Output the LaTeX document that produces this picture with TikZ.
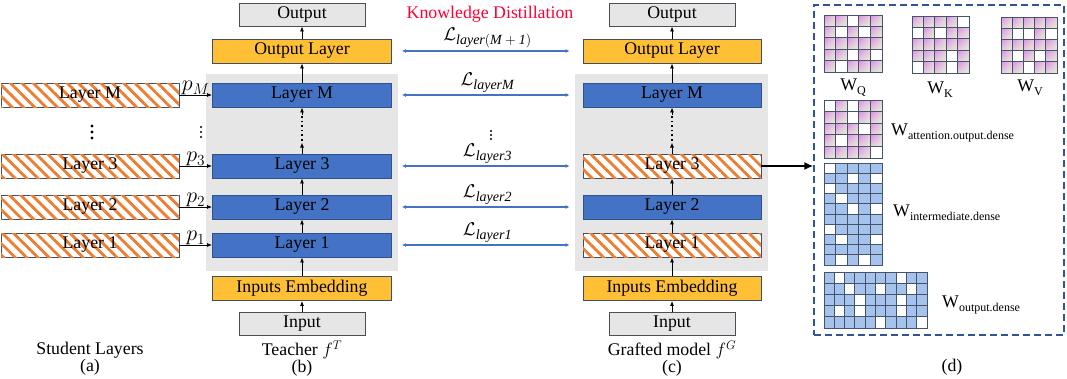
\RequirePackage{fix-cm}
\documentclass[tikz,border=0pt]{standalone}
\usepackage{fontspec}
\setmainfont{Liberation Serif}
\usetikzlibrary{arrows.meta,patterns.meta,shadings}
\definecolor{blueL}{HTML}{4472C4}
\definecolor{blueB}{HTML}{2F528F}
\definecolor{orangeL}{HTML}{FFC035}
\definecolor{boxB}{HTML}{3E4F66}
\definecolor{grayL}{HTML}{E7E6E6}
\definecolor{grayB}{HTML}{4A4F57}
\definecolor{bgG}{HTML}{E6E6E6}
\definecolor{hatchC}{HTML}{ED7D31}
\definecolor{kdRed}{HTML}{FF0033}
\definecolor{dashC}{HTML}{2F5597}
\definecolor{pinkA}{HTML}{D98FE3}
\definecolor{midA}{HTML}{E6CFE2}
\definecolor{greenA}{HTML}{E6EFCB}
\definecolor{cellBlue}{HTML}{A6C3EE}
\definecolor{gridC}{HTML}{44546A}
\newcommand\fsz{\fontsize{17.8}{17}\selectfont}
\newcommand\Wsub[1]{W\raisebox{-4pt}{\fontsize{12}{12}\selectfont #1}}
\newcommand\Lsub[1]{$\mathcal{L}$\raisebox{-4pt}{\fontsize{14}{14}\selectfont$\mathit{#1}$}}
\newcommand\cellgrid[8]{%
  \foreach \ci in {1,...,#3}{\foreach \cj in {1,...,#4}{%
    \path[#7] ({#1+(\ci-1)*#5},{#2+(\cj-1)*#6}) rectangle ++(#5,#6);}}%
  \foreach \cj/\ci in {#8}{\fill[white] ({#1+(\ci-1)*#5},{#2+(\cj-1)*#6}) rectangle ++(#5,#6);}%
  \foreach \ci in {1,...,#3}{\foreach \cj in {1,...,#4}{%
    \draw[gridln] ({#1+(\ci-1)*#5},{#2+(\cj-1)*#6}) rectangle ++(#5,#6);}}%
}
\tikzset{
  box/.style={draw=boxB, line width=0.9pt, minimum width=178pt, minimum height=24pt, inner sep=0pt, font=\fsz},
  bluebox/.style={box, fill=blueL, draw=blueB},
  orangebox/.style={box, fill=orangeL},
  graybox/.style={box, fill=grayL, draw=grayB, minimum width=126pt, minimum height=23pt},
  hatchbox/.style={box, fill=white, postaction={pattern={Lines[angle=-45,distance=8pt,line width=2.8pt]}, pattern color=hatchC}},
  arr/.style={line width=0.8pt, -{Latex[length=5pt,width=4pt]}},
  kd/.style={draw=blueL, line width=1.8pt, {Latex[length=4pt,width=4pt]}-{Latex[length=4pt,width=4pt]}},
  dotsln/.style={line width=1.6pt, dash pattern=on 1.6pt off 3pt},
  gridln/.style={draw=gridC, line width=1pt},
  pinkcell/.style={shade, upper left=pinkA, lower right=greenA, upper right=midA, lower left=midA},
  bluecell/.style={fill=cellBlue},
  lbl/.style={font=\fsz, inner sep=0pt},
  captxt/.style={font=\fsz, inner sep=0pt, align=center},
  plbl/.style={midway, above=-1pt, inner sep=0.5pt, font=\fontsize{22}{22}\selectfont},
  llbl/.style={midway, above=1pt, inner sep=1pt, font=\fontsize{18.5}{18}\selectfont},
}
\begin{document}
\begin{tikzpicture}[x=1pt,y=-1pt]
\useasboundingbox (0,0) rectangle (1067,378);
% gray backgrounds
\fill[bgG] (206,74) rectangle (398,271);
\fill[bgG] (575,74) rectangle (768,271);
% student layers
\node[hatchbox] (SLM) at (90,95) {Layer M};
\node[hatchbox] (SL3) at (90,166) {Layer 3};
\node[hatchbox] (SL2) at (90,207) {Layer 2};
\node[hatchbox] (SL1) at (90,245) {Layer 1};
\foreach \yy in {126,132,138} \fill (92,\yy) circle (1.6);
% teacher
\node[graybox] (TOut) at (302,14.5) {Output};
\node[orangebox, minimum width=179pt] (TOL) at (302,51) {Output Layer};
\node[bluebox, minimum width=179pt] (TLM) at (302,95) {Layer M};
\node[bluebox, minimum width=179pt] (TL3) at (302,166) {Layer 3};
\node[bluebox, minimum width=179pt] (TL2) at (302,207) {Layer 2};
\node[bluebox, minimum width=179pt] (TL1) at (302,245) {Layer 1};
\node[orangebox, minimum width=179pt] (TIE) at (302,288.5) {Inputs Embedding};
\node[graybox] (TIn) at (302,324) {Input};
\foreach \yy in {127,132,137} \fill (201,\yy) circle (1.1);
\draw[arr] (TIn) -- (TIE);
\draw[arr] (TIE) -- (TL1);
\draw[arr] (TL1) -- (TL2);
\draw[arr] (TL2) -- (TL3);
\draw[arr] (TL3.north) -- ++(0,-11) coordinate (T3a);
\draw[dotsln] ([yshift=2pt]T3a) -- ++(0,-26) coordinate (T3b);
\draw[arr] (T3b) -- (TLM.south);
\draw[arr] (TLM) -- (TOL);
\draw[arr] (TOL) -- (TOut);
% p arrows
\draw[arr] (SLM) -- node[plbl] {$p_M$} (TLM);
\draw[arr] (SL3) -- node[plbl] {$p_3$} (TL3);
\draw[arr] (SL2) -- node[plbl] {$p_2$} (TL2);
\draw[arr] (SL1) -- node[plbl] {$p_1$} (TL1);
% grafted
\node[graybox] (GOut) at (672,14.5) {Output};
\node[orangebox] (GOL) at (672,51) {Output Layer};
\node[bluebox] (GLM) at (672,95) {Layer M};
\node[hatchbox] (GL3) at (672,166) {Layer 3};
\node[bluebox] (GL2) at (672,207) {Layer 2};
\node[hatchbox] (GL1) at (672,245) {Layer 1};
\node[orangebox] (GIE) at (672,288.5) {Inputs Embedding};
\node[graybox] (GIn) at (672,324) {Input};
\draw[arr] (GIn) -- (GIE);
\draw[arr] (GIE) -- (GL1);
\draw[arr] (GL1) -- (GL2);
\draw[arr] (GL2) -- (GL3);
\draw[arr] (GL3.north) -- ++(0,-11) coordinate (G3a);
\draw[dotsln] ([yshift=2pt]G3a) -- ++(0,-26) coordinate (G3b);
\draw[arr] (G3b) -- (GLM.south);
\draw[arr] (GLM) -- (GOL);
\draw[arr] (GOL) -- (GOut);
% knowledge distillation
\node[lbl, text=kdRed] (KD) at (490,14) {Knowledge Distillation};
\draw[kd, shorten <=10pt, shorten >=13pt] (TOL) -- node[llbl] {\Lsub{layer(M+1)}} (GOL);
\draw[kd, shorten <=10pt, shorten >=13pt] (TLM) -- node[llbl] {\Lsub{layerM}} (GLM);
\draw[kd, shorten <=10pt, shorten >=13pt] (TL3) -- node[llbl] {\Lsub{layer3}} (GL3);
\draw[kd, shorten <=10pt, shorten >=13pt] (TL2) -- node[llbl] {\Lsub{layer2}} (GL2);
\draw[kd, shorten <=10pt, shorten >=13pt] (TL1) -- node[llbl] {\Lsub{layer1}} (GL1);
\foreach \yy in {131,135,139} \fill (491,\yy) circle (1.1);
% captions
\node[captxt] (capa) at (90,359) {Student Layers\\(a)};
\node[captxt] (capb) at (302,358.5) {Teacher $f^{T}$\\(b)};
\node[captxt] (capc) at (672,358.5) {Grafted model $f^{G}$\\(c)};
\node[lbl] (capd) at (952,367) {(d)};
% dashed panel
\node[draw=dashC, line width=1.2pt, dash pattern=on 7pt off 4pt, minimum width=250pt, minimum height=330pt, inner sep=0pt] (dbox) at (939,170) {};
\draw[line width=2.2pt, -{Latex[length=9pt,width=8pt]}] (GL3.east) -- (dbox.west |- GL3.east);
% grids
\cellgrid{824}{15}{5}{5}{11.6}{11.4}{pinkcell}{1/3,2/2,2/4,4/3,4/5,5/2}
\cellgrid{912}{16}{5}{5}{11.4}{11.4}{pinkcell}{1/5,2/1,2/3,4/4,5/1,5/4}
\cellgrid{1001}{17}{5}{5}{11.2}{11.2}{pinkcell}{2/2,2/3,2/5,4/2,4/4,5/3}
\cellgrid{824}{100}{5}{5}{11.6}{11.6}{pinkcell}{1/1,1/3,2/3,3/4,4/2,5/5}
\cellgrid{824}{163}{5}{10}{11.6}{10.2}{bluecell}{1/1,2/3,2/5,3/1,4/2,5/3,5/5,7/1,8/2,8/5,10/2,10/4}
\cellgrid{824}{272}{10}{5}{10.3}{11.2}{bluecell}{1/2,1/8,2/3,2/6,2/9,3/4,3/8,4/2,4/4,4/8,5/6,5/10}
\node[lbl] (wq) at (853,88) {\Wsub{Q}};
\node[lbl] (wk) at (940,90) {\Wsub{K}};
\node[lbl] (wv) at (1030,88) {\Wsub{V}};
\node[lbl, anchor=west] (wa) at (891,133) {\Wsub{attention.output.dense}};
\node[lbl, anchor=west] (wi) at (893,213) {\Wsub{intermediate.dense}};
\node[lbl, anchor=west] (wo) at (942,305) {\Wsub{output.dense}};
\end{tikzpicture}
\end{document}
